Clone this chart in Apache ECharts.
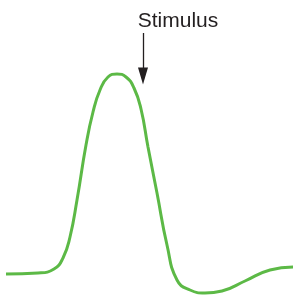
<!DOCTYPE html>
<html>
<head>
<meta charset="utf-8">
<script src="https://cdn.jsdelivr.net/npm/echarts@6/dist/echarts.min.js"></script>
<style>
  html, body { margin: 0; padding: 0; background: #fff; }
  #main { width: 294px; height: 295px; }
</style>
</head>
<body>
<div id="main"></div>
<script>
// 曲线采样点 (x 位置, 响应幅值)
var xs = [6, 38, 54, 63, 70, 77, 86, 93, 100, 108, 117, 126, 134, 141, 148, 157, 167, 177, 190, 205, 222, 245, 270, 293];
var ys = [21, 22, 26, 37, 58, 95, 150, 183, 205, 218, 221, 218, 207, 186, 148, 102, 50, 15, 5, 2, 4, 14, 25, 28];
var stimulusX = 143;
var stimulusLabel = 'Stimulus';

var curve = [];
for (var i = 0; i < xs.length; i++) {
    curve.push([xs[i], ys[i]]);
}

var myChart = echarts.init(document.getElementById('main'));
var option = {
    animation: false,
    grid: { left: 0, right: 0, top: 0, bottom: 0 },
    xAxis: { type: 'value', min: 0, max: 294, show: false },
    yAxis: { type: 'value', min: 0, max: 295, show: false },
    series: [
        {
            type: 'line',
            data: curve,
            smooth: 0.5,
            symbol: 'none',
            lineStyle: { color: '#5cb946', width: 3 },
            markLine: {
                silent: true,
                animation: false,
                symbol: ['none', 'triangle'],
                symbolSize: [10, 17],
                lineStyle: { color: '#231f20', width: 1.3, type: 'solid' },
                label: {
                    show: true,
                    position: 'start',
                    formatter: stimulusLabel,
                    color: '#231f20',
                    fontFamily: 'Liberation Sans',
                    fontSize: 21,
                    distance: 1,
                    offset: [35, 0]
                },
                data: [[
                    { coord: [stimulusX, 262] },
                    { coord: [stimulusX, 219] }
                ]]
            }
        }
    ]
};
myChart.setOption(option);
</script>
</body>
</html>
